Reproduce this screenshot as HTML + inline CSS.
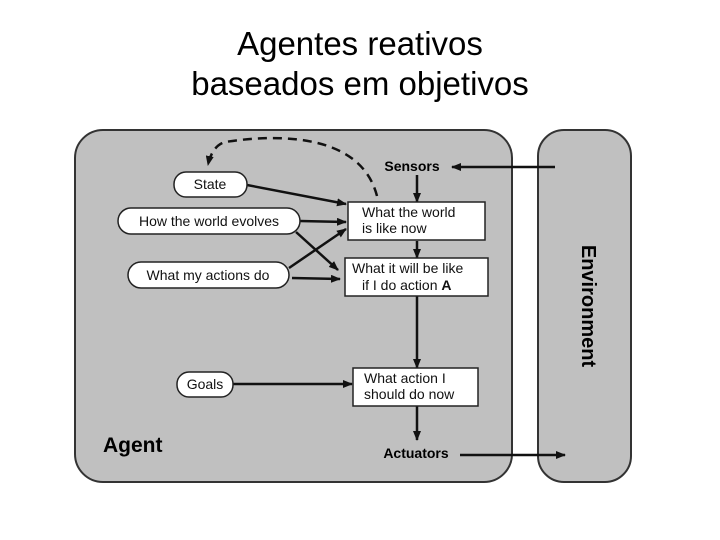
<!DOCTYPE html>
<html><head><style>
body{margin:0;width:720px;height:540px;background:#fff;overflow:hidden}
.t{position:absolute;width:720px;text-align:center;font-family:"Liberation Sans",sans-serif;font-size:33px;color:#000}
</style></head><body>
<div class="t" style="top:24px;line-height:40px">Agentes reativos<br>baseados em objetivos</div>
<svg width="720" height="540" style="position:absolute;left:0;top:0" font-family="Liberation Sans,sans-serif">
<defs><marker id="a" markerWidth="10" markerHeight="8" refX="9" refY="4" orient="auto" markerUnits="userSpaceOnUse"><path d="M0,0L10,4L0,8z" fill="#111"/></marker></defs>
<rect x="75" y="130" width="437" height="352" rx="28" fill="#c0c0c0" stroke="#333" stroke-width="2"/>
<rect x="538" y="130" width="93" height="352" rx="26" fill="#c0c0c0" stroke="#333" stroke-width="2"/>
<text x="582" y="306" transform="rotate(90 582 306)" text-anchor="middle" font-size="20" font-weight="bold">Environment</text>
<text x="103" y="452" font-size="21" font-weight="bold">Agent</text>
<text x="412" y="171" text-anchor="middle" font-size="14" font-weight="bold">Sensors</text>
<text x="416" y="458" text-anchor="middle" font-size="14" font-weight="bold">Actuators</text>
<g stroke="#111" stroke-width="2.5" fill="none">
<line x1="555" y1="167" x2="452" y2="167" marker-end="url(#a)"/>
<line x1="417" y1="175" x2="417" y2="202" marker-end="url(#a)"/>
<line x1="417" y1="241" x2="417" y2="258" marker-end="url(#a)"/>
<line x1="417" y1="295" x2="417" y2="368" marker-end="url(#a)"/>
<line x1="417" y1="405" x2="417" y2="440" marker-end="url(#a)"/>
<line x1="460" y1="455" x2="565" y2="455" marker-end="url(#a)"/>
<line x1="247" y1="185" x2="346" y2="204" marker-end="url(#a)"/>
<line x1="300" y1="221" x2="346" y2="222" marker-end="url(#a)"/>
<line x1="296" y1="232" x2="338" y2="270" marker-end="url(#a)"/>
<line x1="289" y1="268" x2="346" y2="229" marker-end="url(#a)"/>
<line x1="292" y1="278" x2="340" y2="279" marker-end="url(#a)"/>
<line x1="233" y1="384" x2="352" y2="384" marker-end="url(#a)"/>
<path d="M377,196 C360,130 270,135 225,142 C215,145 210,155 208,165" stroke-dasharray="9,6" marker-end="url(#a)"/>
</g>
<g stroke="#222" stroke-width="1.5" fill="#fff">
<rect x="174" y="172" width="73" height="25" rx="12"/>
<rect x="118" y="208" width="182" height="26" rx="13"/>
<rect x="128" y="262" width="161" height="26" rx="13"/>
<rect x="177" y="372" width="56" height="25" rx="12"/>
<rect x="348" y="202" width="137" height="38" fill="#fff"/>
<rect x="345" y="258" width="143" height="38"/>
<rect x="353" y="368" width="125" height="38"/>
</g>
<g font-size="14" fill="#111">
<text x="210" y="189" text-anchor="middle">State</text>
<text x="209" y="226" text-anchor="middle">How the world evolves</text>
<text x="208" y="280" text-anchor="middle">What my actions do</text>
<text x="205" y="389" text-anchor="middle">Goals</text>
<text x="362" y="217">What the world</text>
<text x="362" y="233">is like now</text>
<text x="352" y="273">What it will be like</text>
<text x="362" y="290">if I do action <tspan font-weight="bold">A</tspan></text>
<text x="364" y="383">What action I</text>
<text x="364" y="399">should do now</text>
</g>
</svg>
</body></html>
